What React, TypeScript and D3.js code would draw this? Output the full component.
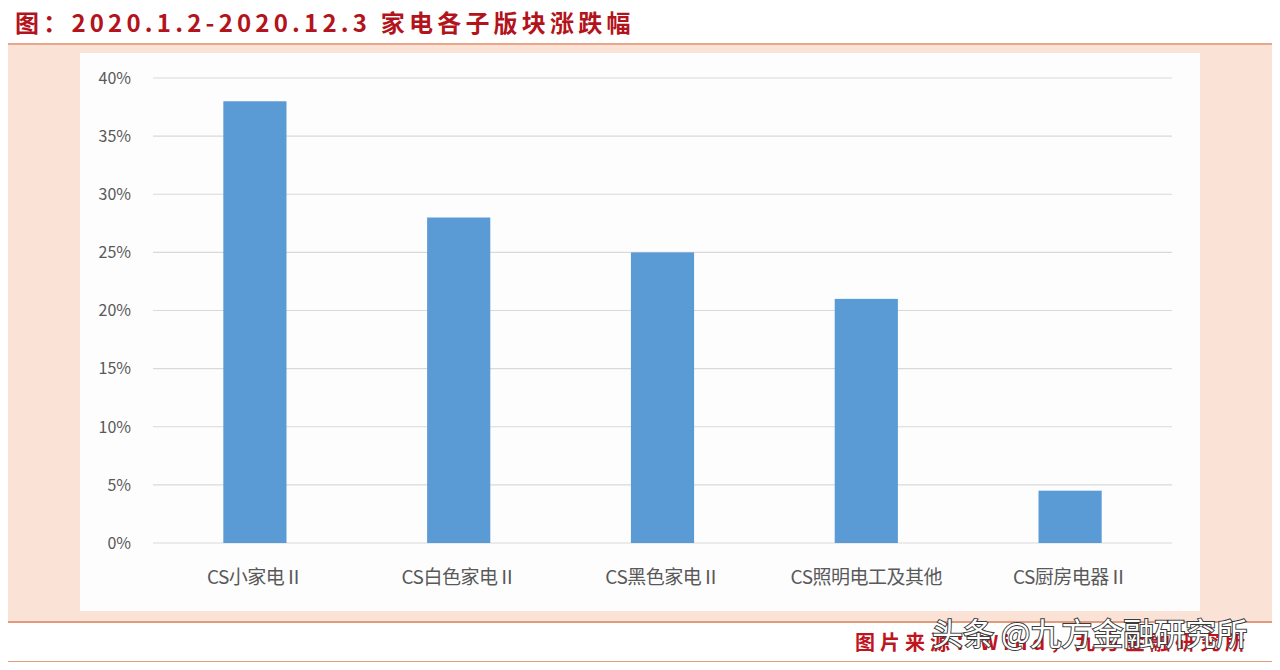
import React, { useEffect, useRef } from 'react';
import * as d3 from 'd3';

// sector names and their % change, 2020.1.2 - 2020.12.3
const categories = ['CS小家电Ⅱ', 'CS白色家电Ⅱ', 'CS黑色家电Ⅱ', 'CS照明电工及其他', 'CS厨房电器Ⅱ'];
const changes = [38, 28, 25, 21, 4.5];
const yTicks = [0, 5, 10, 15, 20, 25, 30, 35, 40];

const titleText = '图：2020.1.2-2020.12.3 家电各子版块涨跌幅';
const sourceText = '图片来源：Wind，九方金融研究所';
const watermarkText = '头条 @九方金融研究所';

const W = 1280;
const H = 670;
const FONT = '"Noto Sans CJK SC", "Noto Sans", sans-serif';

const App: React.FC = () => {
  const ref = useRef<SVGSVGElement>(null);

  useEffect(() => {
    if (!ref.current) return;
    const svg = d3.select(ref.current);
    svg.selectAll('*').remove();

    // page background bands
    svg.append('rect').attr('width', W).attr('height', H).attr('fill', '#ffffff');
    svg.append('rect').attr('x', 3).attr('y', 45).attr('width', W - 3).attr('height', 576).attr('fill', '#fbe2d6');
    svg.append('line').attr('x1', 3).attr('x2', W).attr('y1', 44).attr('y2', 44)
      .attr('stroke', '#e8a788').attr('stroke-width', 2);
    svg.append('line').attr('x1', 3).attr('x2', W).attr('y1', 622).attr('y2', 622)
      .attr('stroke', '#e29a7c').attr('stroke-width', 2);
    svg.append('line').attr('x1', 3).attr('x2', W).attr('y1', 662).attr('y2', 662)
      .attr('stroke', '#e29a7c').attr('stroke-width', 2);

    // white chart area
    svg.append('rect').attr('x', 80).attr('y', 53).attr('width', 1120).attr('height', 558)
      .attr('fill', '#fdfdfe');

    // title
    svg.append('text')
      .attr('x', 15).attr('y', 32)
      .attr('fill', '#b3141c')
      .attr('font-family', '"Noto Sans CJK SC", sans-serif')
      .attr('font-weight', 'bold')
      .attr('font-size', 24)
      .attr('letter-spacing', 4.2)
      .text(titleText);

    const margin = { top: 78, left: 153, right: 108 };
    const width = W - margin.left - margin.right;

    const g = svg.append('g').attr('transform', `translate(${margin.left},${margin.top})`);

    const x = d3.scaleBand<string>().domain(categories).range([0, width])
      .paddingInner(0.69).paddingOuter(0.345);
    const y = d3.scaleLinear().domain([0, 40]).range([465, 0]);

    // gridlines
    g.append('g')
      .selectAll('line')
      .data(yTicks)
      .enter()
      .append('line')
      .attr('x1', 0).attr('x2', width)
      .attr('y1', (d) => y(d)).attr('y2', (d) => y(d))
      .attr('stroke', '#d9d9d9').attr('stroke-width', 1.2);

    // y tick labels
    g.append('g')
      .selectAll('text')
      .data(yTicks)
      .enter()
      .append('text')
      .attr('x', -22)
      .attr('y', (d) => y(d))
      .attr('dy', '0.36em')
      .attr('text-anchor', 'end')
      .attr('fill', '#595959')
      .attr('font-family', FONT)
      .attr('font-size', 16)
      .text((d) => `${d}%`);

    // bars
    g.append('g')
      .selectAll('rect')
      .data(changes)
      .enter()
      .append('rect')
      .attr('x', (_, i) => x(categories[i]) as number)
      .attr('y', (d) => y(d))
      .attr('width', x.bandwidth())
      .attr('height', (d) => y(0) - y(d))
      .attr('fill', '#5b9bd5');

    // category labels
    g.append('g')
      .selectAll('text')
      .data(categories)
      .enter()
      .append('text')
      .attr('x', (d) => (x(d) as number) + x.bandwidth() / 2)
      .attr('y', y(0) + 41)
      .attr('text-anchor', 'middle')
      .attr('fill', '#595959')
      .attr('font-family', FONT)
      .attr('font-size', 19)
      .attr('letter-spacing', -0.5)
      .text((d) => d);

    // footer source line (partly covered by the watermark, as in the original)
    svg.append('text')
      .attr('x', 855).attr('y', 650)
      .attr('fill', '#c0151f')
      .attr('font-family', '"Noto Sans CJK SC", sans-serif')
      .attr('font-weight', 'bold')
      .attr('font-size', 20)
      .attr('letter-spacing', 5)
      .text(sourceText);

    // watermark
    svg.append('text')
      .attr('x', 932).attr('y', 645)
      .attr('fill', '#ffffff')
      .attr('stroke', '#3c3c3c')
      .attr('stroke-width', 2)
      .attr('paint-order', 'stroke')
      .attr('font-family', '"Noto Sans CJK SC", sans-serif')
      .attr('font-size', 31)
      .text(watermarkText);
  }, []);

  return <svg ref={ref} width={W} height={H} style={{ display: 'block', margin: '-8px' }} />;
};

export default App;
